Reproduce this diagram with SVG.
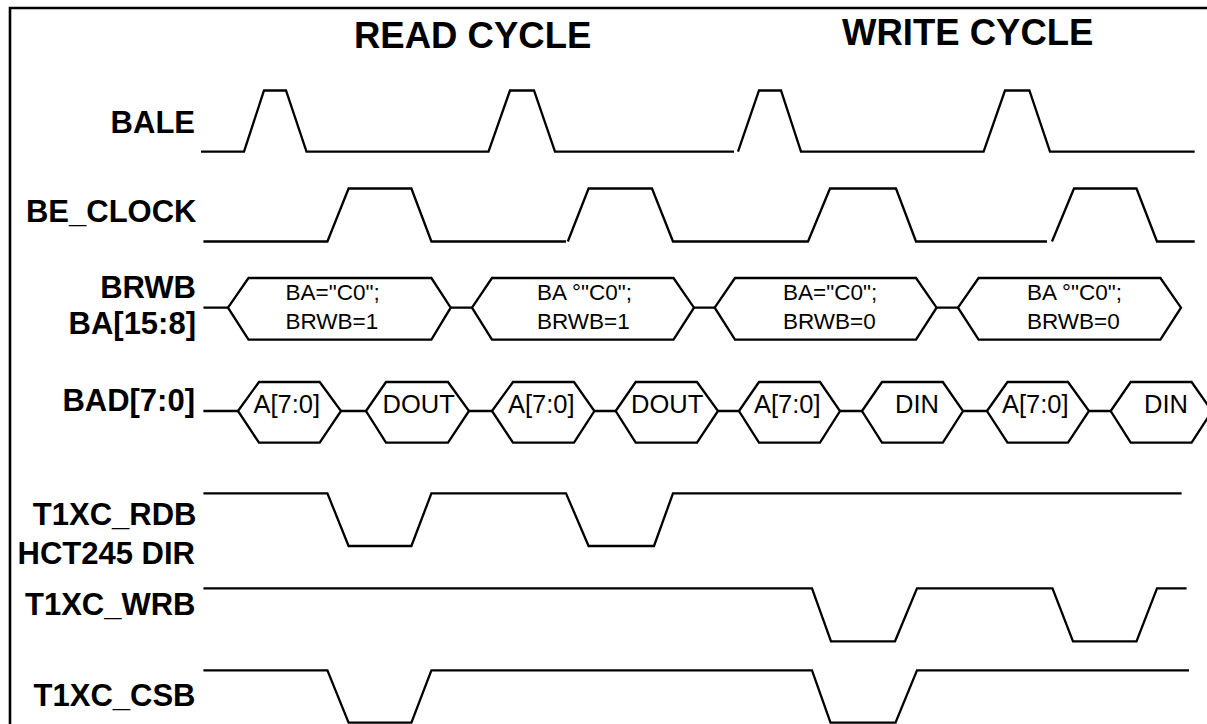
<svg xmlns="http://www.w3.org/2000/svg" width="1207" height="724" viewBox="0 0 1207 724">
<style>
.w{fill:none;stroke:#000;stroke-width:2.3}
.b{fill:none;stroke:#000;stroke-width:2.6}
text{font-family:"Liberation Sans",Arial,sans-serif;fill:#000}
.t{font-weight:bold;font-size:36.5px}
.l{font-weight:bold;font-size:31px;text-anchor:end}
.h{font-size:22.5px}
.d{font-size:25.5px}
</style>
<rect width="1207" height="724" fill="#fff"/>
<path class="b" d="M10 724V8H1207"/>
<g id="titles">
<text class="t" x="354" y="48">READ CYCLE</text>
<text class="t" x="842" y="45">WRITE CYCLE</text>
</g>
<g id="labels">
<text class="l" x="195" y="133">BALE</text>
<text class="l" x="196.5" y="221.5">BE_CLOCK</text>
<text class="l" x="196" y="297.5">BRWB</text>
<text class="l" x="196" y="333.5">BA[15:8]</text>
<text class="l" x="195" y="411">BAD[7:0]</text>
<text class="l" x="196.5" y="525">T1XC_RDB</text>
<text class="l" x="195" y="564">HCT245 DIR</text>
<text class="l" x="195.5" y="615">T1XC_WRB</text>
<text class="l" x="195.5" y="706">T1XC_CSB</text>
</g>
<g id="connectors">
<path id="BALE" class="w" d="M201 151.7H244L264 90.5H286L306.5 151.7H488.5L510 90.5H534L555 151.7H734M738 151.7L759 90.5H781L801 151.7H983.6L1005 90.5H1029.4L1050 151.7H1194.7"/>
<path id="BE_CLOCK" class="w" d="M203.4 241.5H327.4L348.6 188.5H411.4L431.4 241.5H566M567.8 241.5L588.6 188.5H652L673 241.5H808L830 188.5H896L916 241.5H1047M1052 241.5L1074 188.5H1136.5L1157 241.5H1194.7"/>
<path id="RDB" class="w" d="M203.4 493.3H327.4L348.6 546H411.4L431.4 493.3H566L588.6 546H654L673 493.3H1181.6"/>
<path id="WRB" class="w" d="M203.4 588.3H812L831 641.3H895L917 588.3H1052.5L1073 641.3H1136.5L1157 588.3H1186.6"/>
<path id="CSB" class="w" d="M203.4 670.3H327.4L348.6 722.7H411.4L431.4 670.3H812L830.5 722.7H895.5L917 670.3H1189"/>
<path id="BRWB-links" class="w" d="M203.4 307.7H228M450.7 307.7H472M694 307.7H714.7M936.6 307.7H958"/>
<path id="BAD-links" class="w" d="M203.4 411H238M341 411H366M469 411H492M594.4 411H615.7M718 411H739M840 411H862M963 411H987M1089 411H1110.7"/>
</g>
<g id="hex-brwb-1"><path class="w" d="M228 307.7L248.5 278H431.4L450.7 307.7L431.4 339.7H248.5Z"/><text class="h" x="285.5" y="300">BA="C0";</text><text class="h" x="285.5" y="328.5">BRWB=1</text></g>
<g id="hex-brwb-2"><path class="w" d="M472 307.7L492 278H673.5L694 307.7L673.5 339.7H492Z"/><text class="h" x="537" y="300">BA °"C0";</text><text class="h" x="537" y="328.5">BRWB=1</text></g>
<g id="hex-brwb-3"><path class="w" d="M714.7 307.7L735 278H916L936.6 307.7L916 339.7H735Z"/><text class="h" x="783" y="300">BA="C0";</text><text class="h" x="783" y="328.5">BRWB=0</text></g>
<g id="hex-brwb-4"><path class="w" d="M958 307.7L978.6 278H1160.4L1181 307.7L1160.4 339.7H978.6Z"/><text class="h" x="1027" y="300">BA °"C0";</text><text class="h" x="1027" y="328.5">BRWB=0</text></g>
<g id="hex-bad-1"><path class="w" d="M238 411L259 382H319.7L341 411L319.7 442.7H259Z"/><text class="d" x="253.5" y="412.5">A[7:0]</text></g>
<g id="hex-bad-2"><path class="w" d="M366 411L386 382H448L469 411L448 442.7H386Z"/><text class="d" x="382.5" y="412.5">DOUT</text></g>
<g id="hex-bad-3"><path class="w" d="M492 411L513 382H574L594.4 411L574 442.7H513Z"/><text class="d" x="508" y="412.5">A[7:0]</text></g>
<g id="hex-bad-4"><path class="w" d="M615.7 411L635.7 382H697L718 411L697 442.7H635.7Z"/><text class="d" x="631" y="412.5">DOUT</text></g>
<g id="hex-bad-5"><path class="w" d="M739 411L759 382H820L840 411L820 442.7H759Z"/><text class="d" x="754" y="412.5">A[7:0]</text></g>
<g id="hex-bad-6"><path class="w" d="M862 411L882 382H942.8L963 411L942.8 442.7H882Z"/><text class="d" x="895" y="412.5">DIN</text></g>
<g id="hex-bad-7"><path class="w" d="M987 411L1007.5 382H1068L1089 411L1068 442.7H1007.5Z"/><text class="d" x="1002" y="412.5">A[7:0]</text></g>
<g id="hex-bad-8"><path class="w" d="M1110.7 411L1130.7 382H1191.6L1212 411L1191.6 442.7H1130.7Z"/><text class="d" x="1144" y="412.5">DIN</text></g>
</svg>
